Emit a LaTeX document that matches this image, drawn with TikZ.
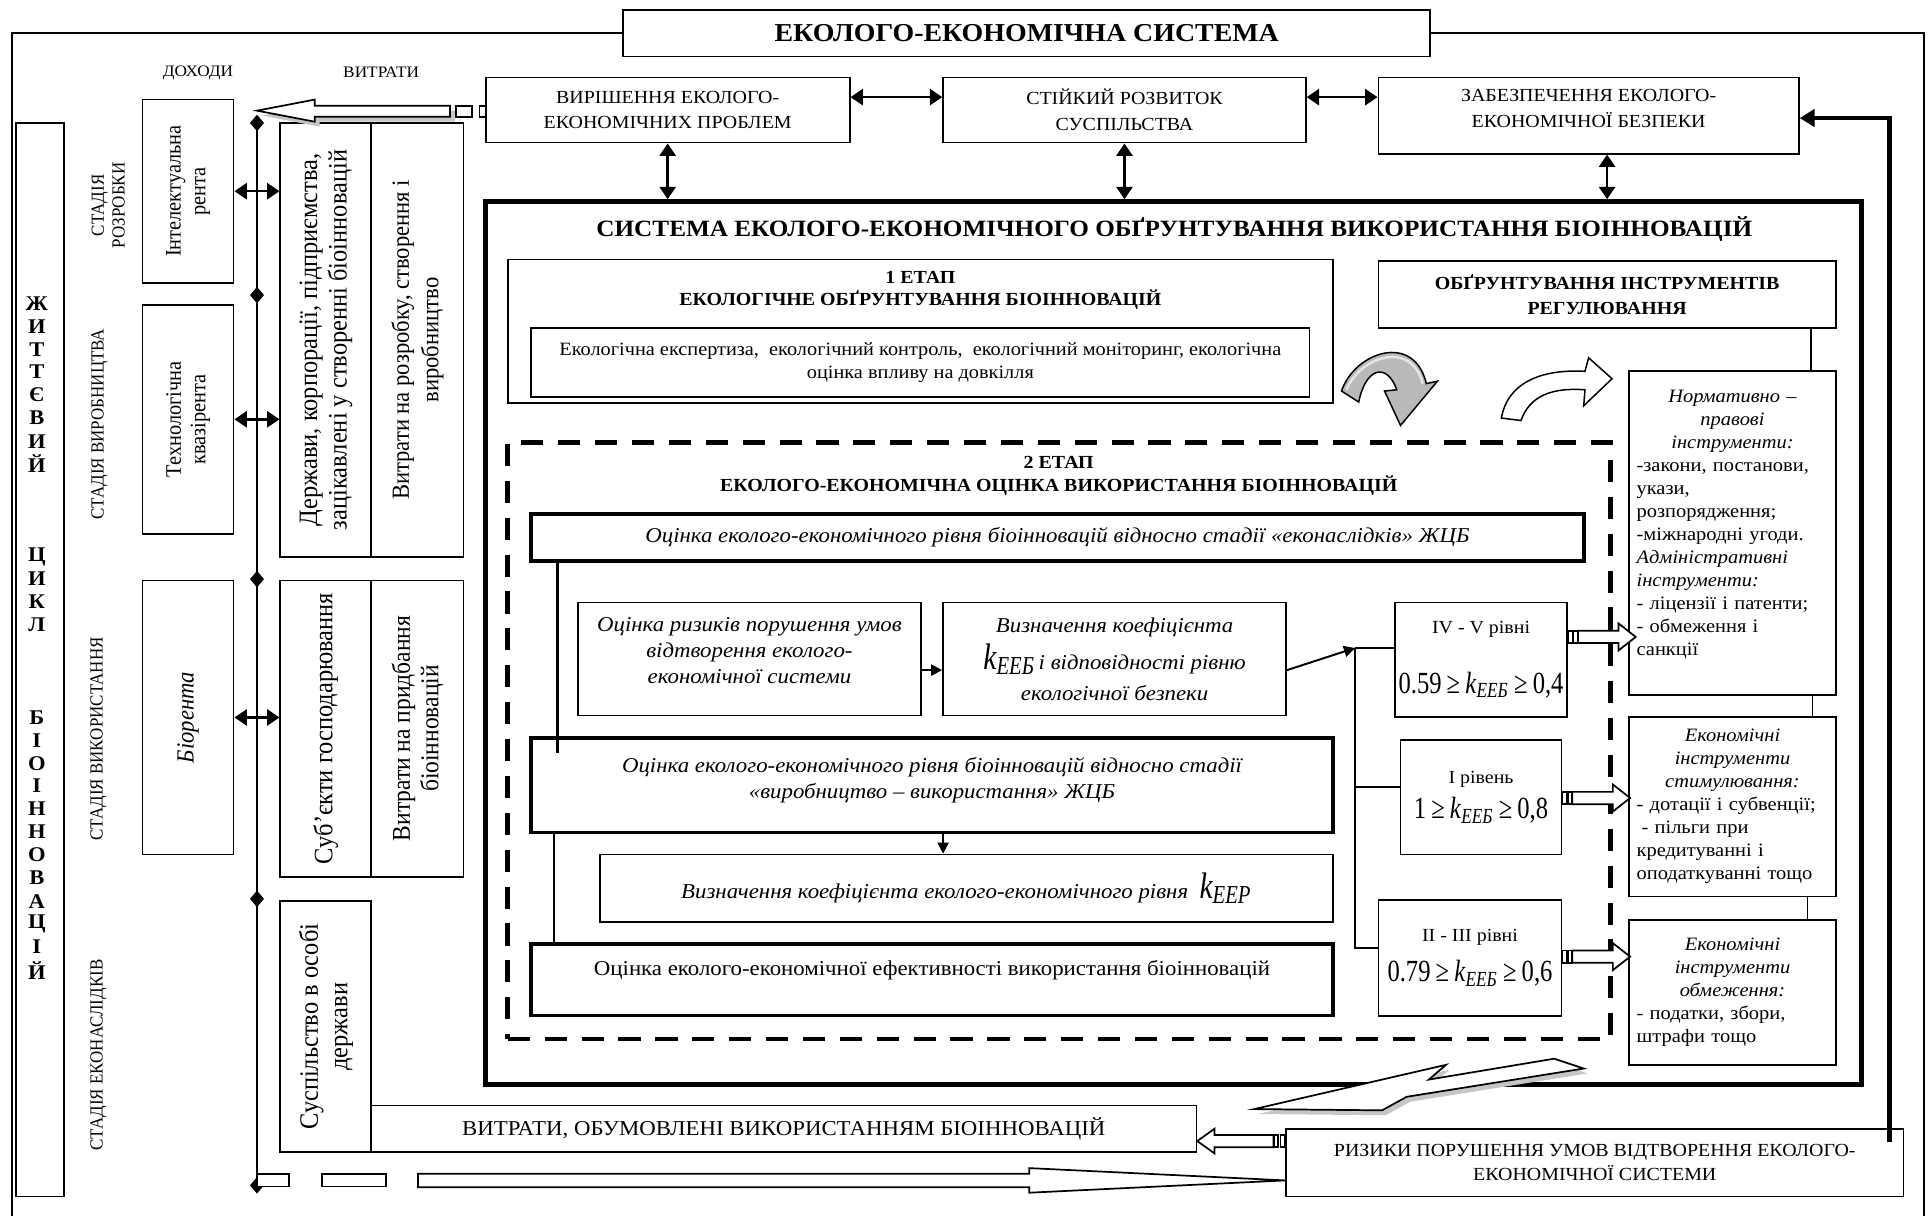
\documentclass[tikz,border=0pt]{standalone}
\usepackage{fontspec}
\setmainfont{Liberation Serif}[FakeStretch=1.08]
\newfontfamily\rotfont{Liberation Serif}[FakeStretch=0.92]
\newfontfamily\eqfont{Liberation Serif}[FakeStretch=0.8]
\usetikzlibrary{arrows.meta,shapes.geometric}

\newcommand\kcoef[2][15]{{\eqfont\fontsize{#1}{#1}\selectfont\textit{k}\textsubscript{\textit{#2}}}}
\newcommand\kline[3]{{\eqfont\fontsize{12.5}{13}\selectfont #1\,≥\,\textit{k}\textsubscript{\textit{#2}}\,≥\,#3}}

\tikzset{every picture/.style={line width=0.75pt}}
\tikzset{
  box/.style={draw, line width=0.7pt, align=center, inner sep=1.5pt, font=\fontsize{7.5}{9.5}\selectfont},
  capbox/.style={box, font=\fontsize{7.5}{10.5}\selectfont},
  itbox/.style={box, font=\itshape\fontsize{8.6}{10.5}\selectfont},
  thickbox/.style={box, line width=1.5pt},
  vbox/.style={draw, line width=0.7pt, rotate=90, align=center, inner sep=1pt, font=\rotfont\fontsize{10.8}{12}\selectfont},
  rentbox/.style={vbox, font=\rotfont\fontsize{9}{10}\selectfont},
  stagelbl/.style={rotate=90, align=center, inner sep=0pt, font=\rotfont\fontsize{7.5}{8.5}\selectfont},
  heading/.style={align=center, inner sep=0pt, font=\bfseries\fontsize{7.5}{9}\selectfont},
  letter/.style={inner sep=0pt, font=\bfseries\fontsize{8.5}{9}\selectfont},
  instr/.style={box, text width=78pt, inner xsep=3pt, align=left, font=\fontsize{7.7}{9.35}\selectfont},
  lvlbox/.style={box, font=\fontsize{7.5}{9}\selectfont},
  dmd/.style={diamond, fill=black, inner sep=0pt, minimum width=6pt, minimum height=7pt},
  dbl/.style={{Triangle[length=5pt,width=6.5pt]}-{Triangle[length=5pt,width=6.5pt]}, line width=1pt},
  arr/.style={-{Triangle[length=4.5pt,width=4.5pt]}, line width=0.8pt},
  fback/.style={-{Triangle[length=6pt,width=7pt]}, line width=2pt},
  blk/.style={draw, fill=white, line width=0.7pt},
  shade/.style={fill=gray!45}
}

\begin{document}
\begin{tikzpicture}[x=0.5pt,y=0.5pt,yscale=-1]
\useasboundingbox (0,0) rectangle (1568,989);

% Title and outer frame
\node[draw, line width=0.75pt, minimum width=328pt, minimum height=19pt, font=\bfseries\fontsize{10.5}{12}\selectfont] (title) at (835,27) {ЕКОЛОГО-ЕКОНОМІЧНА СИСТЕМА};
\draw (10,989) -- (10,27) -- (title.west);
\draw (title.east) -- (1565,27) -- (1565,989);

% Life cycle column
\node[draw, line width=0.7pt, minimum width=19.5pt, minimum height=436.5pt] (life) at (32.5,536.5) {};
\foreach \ch/\yy [count=\i] in {Ж/247,И/266,Т/284,Т/302,Є/321,В/340,И/359,Й/377,Ц/453,И/471,К/489,Л/508,Б/584,І/602,О/621,І/639,Н/658,Н/676,О/695,В/714,А/733,Ц/751,І/770,Й/789}
  \node[letter] (lt\i) at (30,\yy) {\ch};

% Stages
\node[stagelbl] (st1) at (88,167) {СТАДІЯ\\РОЗРОБКИ};
\node[stagelbl] (st2) at (81,345) {СТАДІЯ ВИРОБНИЦТВА};
\node[stagelbl] (st3) at (80,601) {СТАДІЯ ВИКОРИСТАННЯ};
\node[stagelbl] (st4) at (80,858) {СТАДІЯ ЕКОНАСЛІДКІВ};

\node[font=\fontsize{6.5}{7}\selectfont] (dohody) at (161,59) {ДОХОДИ};
\node[font=\fontsize{6.5}{7}\selectfont] (vytraty) at (310,59) {ВИТРАТИ};

% Revenues
\node[rentbox, minimum width=74.5pt, minimum height=37pt] (rent1) at (153,155.5) {Інтелектуальна\\рента};
\node[rentbox, minimum width=93pt, minimum height=37pt] (rent2) at (153,341) {Технологічна\\квазірента};
\node[rentbox, minimum width=111.5pt, minimum height=37pt, font=\rotfont\itshape\fontsize{10}{11}\selectfont] (rent3) at (153,583.5) {Біорента};

% Costs
\node[vbox, minimum width=176.5pt, minimum height=37pt] (costA1) at (265,276.5) {Держави, корпорації, підприємства,\\зацікавлені у створенні біоінновацій};
\node[vbox, minimum width=176.5pt, minimum height=37.5pt, font=\rotfont\fontsize{10}{12}\selectfont] (costA2) at (339.5,276.5) {Витрати на розробку, створення і\\виробництво};
\node[vbox, minimum width=120.5pt, minimum height=37pt] (costB1) at (265,592.5) {Суб’єкти господарювання};
\node[vbox, minimum width=120.5pt, minimum height=37.5pt, font=\rotfont\fontsize{10.4}{11.5}\selectfont] (costB2) at (339.5,592.5) {Витрати на придбання\\біоінновацій};
\node[vbox, minimum width=102pt, minimum height=37pt] (costC) at (265,835) {Суспільство в особі\\держави};
\node[box, minimum width=335.5pt, minimum height=19pt, font=\fontsize{8.6}{10}\selectfont] (vytr) at (637.5,918) {ВИТРАТИ, ОБУМОВЛЕНІ ВИКОРИСТАННЯМ БІОІННОВАЦІЙ};

% Axis with diamonds
\draw[line width=1pt] (209,100) -- (209,964);
\foreach \yy [count=\i] in {100,240,471,731,964}
  \node[dmd] (d\i) at (209,\yy) {};
\draw[dbl] (rent1.south) -- (rent1.south -| costA1.north);
\draw[dbl] (rent2.south) -- (rent2.south -| costA1.north);
\draw[dbl] (rent3.south) -- (rent3.south -| costB1.north);

% Top row
\node[capbox, minimum width=148pt, minimum height=26.5pt] (vyr) at (543,89.5) {ВИРІШЕННЯ ЕКОЛОГО-\\ЕКОНОМІЧНИХ ПРОБЛЕМ};
\node[capbox, minimum width=147.5pt, minimum height=26.5pt] (stiy) at (914.5,89.5) {СТІЙКИЙ РОЗВИТОК\\СУСПІЛЬСТВА};
\node[capbox, minimum width=171pt, minimum height=31pt, text depth=6pt] (zab) at (1292,94) {ЗАБЕЗПЕЧЕННЯ ЕКОЛОГО-\\ЕКОНОМІЧНОЇ БЕЗПЕКИ};
\draw[dbl] ([yshift=-5.25pt]vyr.east) -- ([yshift=-5.25pt]stiy.west);
\draw[dbl] ([yshift=-5.25pt]stiy.east) -- ([yshift=-5.25pt]stiy.east -| zab.west);

% Top striped arrow
\fill[shade, shift={(4,4)}] (209,90) -- (256,81) -- (256,86) -- (366,86) -- (366,95) -- (256,95) -- (256,99) -- cycle;
\draw[blk] (209,90) -- (256,81) -- (256,86) -- (366,86) -- (366,95) -- (256,95) -- (256,99) -- cycle;
\draw[blk] (371,86) rectangle (384,95);
\draw[blk] (390,86) rectangle (395,95);

% System box
\node[draw, line width=2pt, minimum width=559.5pt, minimum height=359pt] (sys) at (954.5,523) {};
\node[font=\bfseries\fontsize{9.5}{11}\selectfont] (systitle) at (955,186) {СИСТЕМА ЕКОЛОГО-ЕКОНОМІЧНОГО ОБҐРУНТУВАННЯ ВИКОРИСТАННЯ БІОІННОВАЦІЙ};
\draw[dbl] (vyr.south) -- (vyr.south |- sys.north);
\draw[dbl] (stiy.south) -- (stiy.south |- sys.north);
\draw[dbl] ([xshift=7.5pt]zab.south) -- ([xshift=7.5pt]zab.south |- sys.north);

% Stage 1
\node[box, minimum width=335.5pt, minimum height=58.5pt] (etap1) at (748.5,269.5) {};
\node[heading] (etap1head) at (748.5,236) {1 ЕТАП\\ЕКОЛОГІЧНЕ ОБҐРУНТУВАННЯ БІОІННОВАЦІЙ};
\node[box, minimum width=316.5pt, minimum height=28pt, font=\fontsize{7.65}{9.5}\selectfont] (etap1in) at (748.5,295) {Екологічна експертиза,\ \ екологічний контроль,\ \ екологічний моніторинг, екологічна\\оцінка впливу на довкілля};
\node[box, minimum width=186pt, minimum height=27.5pt, font=\bfseries\fontsize{7.5}{10.5}\selectfont] (obgr) at (1307,239.5) {ОБҐРУНТУВАННЯ ІНСТРУМЕНТІВ\\РЕГУЛЮВАННЯ};

% Curved arrows
\filldraw[fill=gray!55, line width=0.6pt] (1091,318) .. controls (1102,286) and (1150,270) .. (1160,312) -- (1169,310) -- (1139,346) -- (1126,318) -- (1136,317) .. controls (1128,295) and (1111,298) .. (1105,327) -- cycle;
\draw[gray!20, line width=1pt] (1095,317) .. controls (1106,290) and (1148,276) .. (1157,312);
\filldraw[fill=white, line width=0.6pt] (1221,340) .. controls (1226,312) and (1252,300) .. (1289,302) -- (1292,291) -- (1311,308) -- (1288,330) -- (1289,317) .. controls (1262,315) and (1244,322) .. (1237,342) -- cycle;

% Stage 2
\node[draw, line width=2pt, dash pattern=on 9pt off 6pt, minimum width=448.5pt, minimum height=242.5pt] (etap2) at (861.5,602.5) {};
\node[heading] (etap2head) at (861,387) {2 ЕТАП\\ЕКОЛОГО-ЕКОНОМІЧНА ОЦІНКА ВИКОРИСТАННЯ БІОІННОВАЦІЙ};
\node[itbox, line width=1.5pt, minimum width=428pt, minimum height=19pt] (evA) at (860,437) {Оцінка еколого-економічного рівня біоінновацій відносно стадії «еконаслідків» ЖЦБ};
\node[itbox, minimum width=139.5pt, minimum height=46pt] (risk) at (609.5,536) {Оцінка ризиків порушення умов\\відтворення еколого-\\економічної системи\\[-3.5pt]\mbox{}};
\node[itbox, minimum width=139.5pt, minimum height=46pt] (kEEB) at (906.5,536) {Визначення коефіцієнта\\[2pt]\kcoef{ЕЕБ}\,і відповідності рівню\\[2pt]екологічної безпеки};
\node[itbox, line width=1.5pt, minimum width=326pt, minimum height=38.5pt] (evB) at (758,638.5) {Оцінка еколого-економічного рівня біоінновацій відносно стадії\\«виробництво – використання» ЖЦБ\\[-4.5pt]\mbox{}};
\node[itbox, minimum width=298pt, minimum height=27.5pt] (kEEP) at (786,722.5) {Визначення коефіцієнта еколого-економічного рівня\ \ \kcoef{ЕЕР}};
\node[thickbox, minimum width=326pt, minimum height=29pt, text depth=10pt, font=\fontsize{8.6}{10}\selectfont] (evC) at (758,797) {Оцінка еколого-економічної ефективності використання біоінновацій};

\draw[line width=1pt] ([xshift=11.5pt]evA.south west) -- ++(0,155);
\draw[line width=1pt] ([xshift=10pt]evB.south west) -- ([xshift=10pt]evB.south west |- evC.north);
\draw[arr] ([yshift=4.5pt]risk.east) -- ([yshift=4.5pt]kEEB.west);
\draw[arr] ([xshift=4.5pt]evB.south) -- ([xshift=4.5pt]evB.south |- kEEP.north);

% Levels
\node[lvlbox, minimum width=65.5pt, minimum height=46.5pt] (lvl45) at (1204.5,536.5) {IV - V рівні\\[13pt]\kline{0.59}{ЕЕБ}{0,4}};
\node[lvlbox, minimum width=65.5pt, minimum height=46.5pt] (lvl1) at (1204.5,648.5) {I рівень\\[3pt]\kline{1}{ЕЕБ}{0,8}};
\node[lvlbox, minimum width=74.5pt, minimum height=47pt] (lvl23) at (1195.5,779) {II - III рівні\\[5pt]\kline{0.79}{ЕЕБ}{0,6}};
\coordinate (br) at (1102,527);
\draw[arr] ([yshift=4.5pt]kEEB.east) -- (br);
\draw (br) -- (br -| lvl45.west);
\draw (br) |- ([yshift=-4pt]lvl23.west);
\draw ([yshift=-4.25pt]lvl1.west) -- ([yshift=-4.25pt]lvl1.west -| br);

% Instruments
\node[instr, minimum height=131.5pt] (norm) at (1409,433.5) {{\centering\itshape Нормативно –\\правові\\інструменти:\par}{\raggedright -закони, постанови,\\укази,\\розпорядження;\\-міжнародні угоди.\\\textit{Адміністративні}\\\textit{інструменти:}\\- ліцензії і патенти;\\- обмеження і\\санкції\\[-1.35pt]\mbox{}\par}};
\node[instr, minimum height=73pt] (ekon) at (1409,656) {{\centering\itshape Економічні\\інструменти\\стимулювання:\par}{\raggedright - дотації і субвенції;\\\hspace*{2pt}- пільги при\\кредитуванні і\\оподаткуванні тощо\par}};
\node[instr, minimum height=59pt] (obm) at (1409,807) {{\centering\itshape Економічні\\інструменти\\обмеження:\par}{\raggedright - податки, збори,\\штрафи тощо\par}};
\draw ([xshift=32pt]norm.north) -- ([xshift=32pt]norm.north |- obgr.south);
\draw ([xshift=32.5pt]ekon.north) -- ([xshift=32.5pt]ekon.north |- norm.south);
\draw ([xshift=30.5pt]obm.north) -- ([xshift=30.5pt]obm.north |- ekon.south);
\foreach \src/\yy in {lvl45/518, lvl1/649, lvl23/778}{
  \draw[blk] (\src.east |- 0,\yy) ++(8,-5) -- ++(33,0) -- ++(0,-6) -- ++(14,11) -- ++(-14,11) -- ++(0,-6) -- ++(-33,0) -- cycle;
  \draw[blk] (\src.east |- 0,\yy) ++(0,-5) rectangle ++(3.5,10);
  \draw[blk] (\src.east |- 0,\yy) ++(4.5,-5) rectangle ++(3.5,10);
}

% Risks and feedback
\node[box, minimum width=251pt, minimum height=27.5pt] (rizyky) at (1297,945.5) {РИЗИКИ ПОРУШЕННЯ УМОВ ВІДТВОРЕННЯ ЕКОЛОГО-\\ЕКОНОМІЧНОЇ СИСТЕМИ};
\coordinate (fbstart) at (1537,929);
\draw[fback] (fbstart) |- ([yshift=1pt]zab.east);

% Zigzag arrow
\fill[shade, shift={(3,4)}] (1020,902) -- (1176,866) -- (1162,878) -- (1264,861) -- (1288,869) -- (1144,892) -- (1124,903) -- cycle;
\draw[blk] (1020,902) -- (1176,866) -- (1162,878) -- (1264,861) -- (1288,869) -- (1144,892) -- (1124,903) -- cycle;

% Arrow from risks to costs
\draw[blk] (vytr.east |- 0,928) -- ++(14,-10) -- ++(0,5) -- ++(48,0) -- ++(0,10) -- ++(-48,0) -- ++(0,5) -- cycle;
\draw[blk] (1036,923) rectangle (1039.5,933);
\draw[blk] (1041.5,923) rectangle (1045,933);

% Bottom striped arrow
\draw[blk] (d5.center |- 0,955) rectangle (235,965);
\draw[blk] (262,955) rectangle (314,965);
\draw[blk] (340,954.5) -- (837,954.5) -- (837,950) -- (rizyky.west |- 0,960) -- (837,970) -- (837,965.5) -- (340,965.5) -- cycle;
\end{tikzpicture}
\end{document}
